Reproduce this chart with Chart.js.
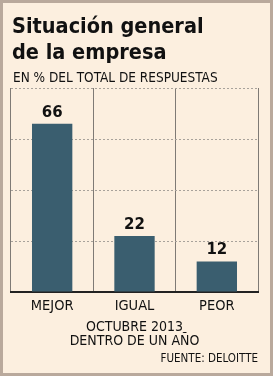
<!DOCTYPE html>
<html>
<head>
<meta charset="utf-8">
<script src="https://cdn.jsdelivr.net/npm/chart.js@4.4.0/dist/chart.umd.min.js"></script>
<style>
  html, body { margin: 0; padding: 0; background: #fcefdf; }
  #wrap { width: 273px; height: 376px; position: relative; }
</style>
</head>
<body>
<div id="wrap"><canvas id="grafico" width="273" height="376"></canvas></div>
<script>
// Datos del gráfico
const categorias = ['MEJOR', 'IGUAL', 'PEOR'];
const valores = [66, 22, 12];
const titulo = ['Situación general', 'de la empresa'];
const subtitulo = 'EN % DEL TOTAL DE RESPUESTAS';
const notaPeriodo = ['OCTUBRE 2013', 'DENTRO DE UN AÑO'];
const fuente = 'FUENTE: DELOITTE';

const fondo = '#fcefdf';
const colorBarra = '#3a5e6f';

// Fondo, borde y textos fijos
const textosPlugin = {
    id: 'textos',
    beforeDraw(chart) {
        const ctx = chart.ctx;
        ctx.save();
        ctx.fillStyle = fondo;
        ctx.fillRect(0, 0, chart.width, chart.height);
        ctx.restore();
    },
    afterDraw(chart) {
        const ctx = chart.ctx;
        ctx.save();
        ctx.strokeStyle = '#b9a99c';
        ctx.lineWidth = 3;
        ctx.strokeRect(1.5, 1.5, chart.width - 3, chart.height - 3);

        ctx.fillStyle = '#111';
        ctx.textBaseline = 'alphabetic';
        ctx.textAlign = 'left';
        ctx.font = 'bold 21.5px "DejaVu Sans Condensed", "DejaVu Sans"';
        ctx.fillText(titulo[0], 12, 33);
        ctx.fillText(titulo[1], 12, 59);

        ctx.font = '13.5px "DejaVu Sans Condensed", "DejaVu Sans"';
        ctx.fillText(subtitulo, 13, 82);

        const cx = (chart.chartArea.left + chart.chartArea.right) / 2;
        ctx.textAlign = 'center';
        ctx.font = '14px "DejaVu Sans Condensed", "DejaVu Sans"';
        ctx.fillText(notaPeriodo[0], cx, 331);
        ctx.fillText(notaPeriodo[1], cx, 345);

        ctx.textAlign = 'right';
        ctx.font = '11.5px "DejaVu Sans Condensed", "DejaVu Sans"';
        ctx.fillText(fuente, chart.chartArea.right, 362);

        // valores sobre las barras
        const meta = chart.getDatasetMeta(0);
        ctx.textAlign = 'center';
        ctx.font = 'bold 15px "DejaVu Sans"';
        meta.data.forEach((bar, i) => {
            ctx.fillText(String(valores[i]), bar.x, bar.y - 7);
        });
        ctx.restore();
    }
};

new Chart(document.getElementById('grafico'), {
    type: 'bar',
    data: {
        labels: categorias,
        datasets: [{
            data: valores,
            backgroundColor: colorBarra,
            borderWidth: 0,
            barPercentage: 0.49,
            categoryPercentage: 1
        }]
    },
    plugins: [textosPlugin],
    options: {
        responsive: false,
        animation: false,
        events: [],
        layout: { padding: { left: 11, right: 15, top: 88, bottom: 0 } },
        plugins: { legend: { display: false }, tooltip: { enabled: false } },
        scales: {
            x: {
                offset: true,
                grid: { offset: true, color: '#7f7a75', lineWidth: 1, drawTicks: false },
                border: { color: '#222', width: 2 },
                ticks: {
                    color: '#111',
                    padding: 6,
                    font: { family: '"DejaVu Sans Condensed", "DejaVu Sans"', size: 14.5 }
                },
                afterFit(scale) { scale.height = 84; }
            },
            y: {
                min: 0,
                max: 80,
                ticks: { stepSize: 20, display: false },
                grid: { color: '#a8a29b', lineWidth: 1, drawTicks: false },
                border: { display: false, dash: [2, 2] },
                afterFit(scale) { scale.width = 0; }
            }
        }
    }
});
</script>
</body>
</html>
